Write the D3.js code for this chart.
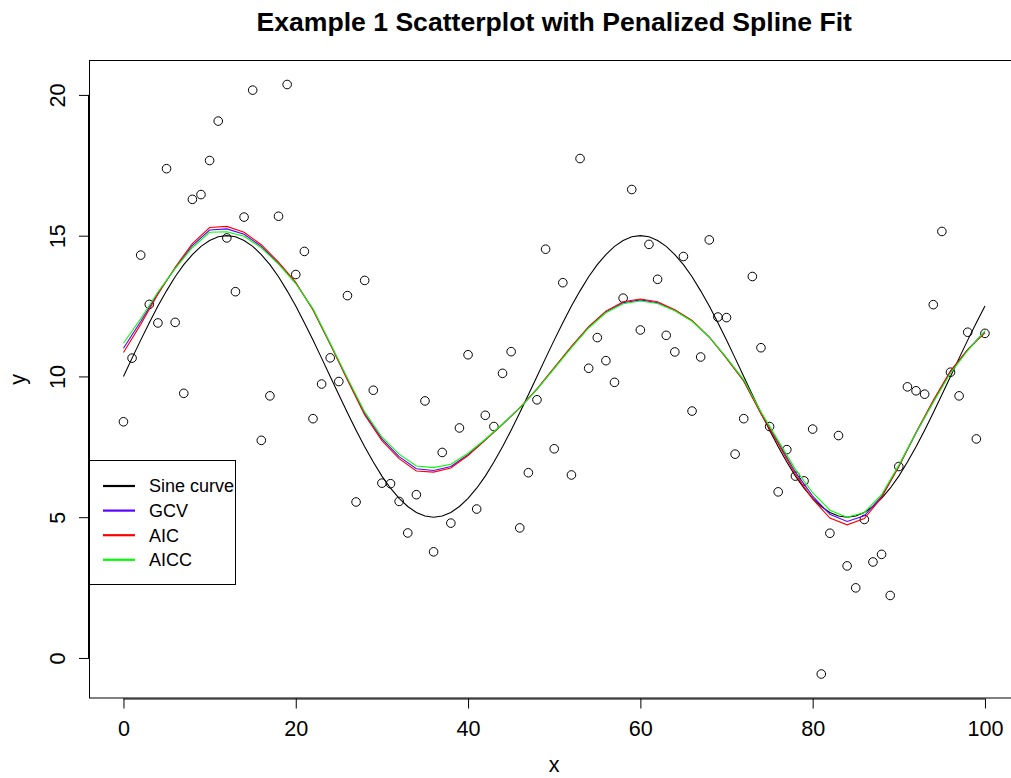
<!DOCTYPE html>
<html>
<head>
<meta charset="utf-8">
<script src="https://cdn.jsdelivr.net/npm/d3@7"></script>
<style>
  html, body { margin: 0; padding: 0; background: #fff; }
  svg { display: block; font-family: "Liberation Sans", Arial, Helvetica, sans-serif; }
</style>
</head>
<body>
<svg id="chart" width="1011" height="778"></svg>
<script>
// ---- data ----
const pointX = d3.range(0, 101);
const pointY = [
  8.39, 10.65, 14.31, 12.56, 11.90, 17.38, 11.92, 9.40, 16.29, 16.46,
  17.67, 19.07, 14.92, 13.01, 15.66, 20.17, 7.73, 9.31, 15.69, 20.37,
  13.62, 14.44, 8.50, 9.73, 10.66, 9.82, 12.87, 5.54, 13.41, 9.51,
  6.21, 6.19, 5.56, 4.44, 5.80, 9.13, 3.77, 7.30, 4.79, 8.17,
  10.77, 5.29, 8.62, 8.22, 10.11, 10.88, 4.62, 6.58, 9.17, 14.52,
  7.43, 13.33, 6.50, 17.74, 10.29, 11.38, 10.56, 9.79, 12.78, 16.64,
  11.65, 14.69, 13.45, 11.46, 10.87, 14.26, 8.77, 10.69, 14.85, 12.11,
  12.09, 7.24, 8.50, 13.55, 11.02, 8.22, 5.90, 7.40, 6.46, 6.29,
  8.13, -0.57, 4.43, 7.90, 3.27, 2.49, 4.92, 3.41, 3.68, 2.22,
  6.80, 9.63, 9.49, 9.37, 12.55, 15.15, 10.15, 9.31, 11.57, 7.78,
  11.53
];

const sineX = d3.range(0, 101);
const sineY = [
  10.00, 10.65, 11.29, 11.91, 12.50, 13.04, 13.54, 13.97, 14.33, 14.62, 14.83, 14.96,
  15.00, 14.96, 14.83, 14.62, 14.33, 13.97, 13.54, 13.04, 12.50, 11.91, 11.29, 10.65,
  10.00, 9.35, 8.71, 8.09, 7.50, 6.96, 6.46, 6.03, 5.67, 5.38, 5.17, 5.04,
  5.00, 5.04, 5.17, 5.38, 5.67, 6.03, 6.46, 6.96, 7.50, 8.09, 8.71, 9.35,
  10.00, 10.65, 11.29, 11.91, 12.50, 13.04, 13.54, 13.97, 14.33, 14.62, 14.83, 14.96,
  15.00, 14.96, 14.83, 14.62, 14.33, 13.97, 13.54, 13.04, 12.50, 11.91, 11.29, 10.65,
  10.00, 9.35, 8.71, 8.09, 7.50, 6.96, 6.46, 6.03, 5.67, 5.38, 5.17, 5.04,
  5.00, 5.04, 5.17, 5.38, 5.67, 6.03, 6.46, 6.96, 7.50, 8.09, 8.71, 9.35,
  10.00, 10.65, 11.29, 11.91, 12.50
];

const fitX = d3.range(0, 101, 2);
const gcvY = [
  11.00, 11.95, 12.95, 13.85, 14.65, 15.20, 15.24, 15.05, 14.62, 14.02,
  13.32, 12.38, 11.15, 9.90, 8.68, 7.78, 7.15, 6.72, 6.66, 6.80,
  7.22, 7.75, 8.30, 8.88, 9.55, 10.30, 11.05, 11.75, 12.30, 12.62,
  12.72, 12.62, 12.35, 11.98, 11.40, 10.65, 9.85, 8.70, 7.65, 6.60,
  5.75, 5.10, 4.85, 5.05, 5.74, 6.80, 7.99, 9.10, 10.17, 10.95,
  11.60
];
const aicY = [
  10.85, 11.85, 12.92, 13.88, 14.72, 15.29, 15.33, 15.12, 14.68, 14.06,
  13.34, 12.36, 11.14, 9.87, 8.63, 7.72, 7.08, 6.64, 6.60, 6.75,
  7.19, 7.74, 8.30, 8.88, 9.56, 10.31, 11.07, 11.77, 12.32, 12.65,
  12.75, 12.65, 12.37, 11.99, 11.40, 10.64, 9.83, 8.67, 7.60, 6.52,
  5.64, 4.97, 4.73, 4.95, 5.70, 6.80, 8.02, 9.15, 10.20, 10.95,
  11.55
];
const aiccY = [
  11.18, 12.05, 13.00, 13.83, 14.58, 15.12, 15.14, 14.98, 14.57, 13.99,
  13.30, 12.40, 11.18, 9.94, 8.74, 7.85, 7.24, 6.82, 6.76, 6.88,
  7.27, 7.77, 8.31, 8.88, 9.54, 10.28, 11.02, 11.72, 12.26, 12.58,
  12.68, 12.59, 12.33, 11.96, 11.40, 10.67, 9.88, 8.74, 7.72, 6.70,
  5.87, 5.25, 5.00, 5.17, 5.80, 6.85, 8.00, 9.08, 10.12, 10.92,
  11.62
];

const xTicks = [0, 20, 40, 60, 80, 100];
const yTicks = [0, 5, 10, 15, 20];
const legendLabels = ["Sine curve", "GCV", "AIC", "AICC"];
const seriesColors = ["#000000", "#5a00ff", "#ff0000", "#00ff00"];
const titleText = "Example 1 Scatterplot with Penalized Spline Fit";

(function draw() {
  const svg = d3.select("#chart");
  const pLeft = 89, pTop = 60, pBottom = 698.5;
  const pxPerX = 8.615;
  const pRight = pLeft + 108 * pxPerX;

  const x = d3.scaleLinear().domain([-4, 104]).range([pLeft, pRight]);
  const y = d3.scaleLinear().domain([-1.44, 21.24]).range([pBottom, pTop]);

  svg.append("defs").append("clipPath").attr("id", "plotclip")
    .append("rect").attr("x", pLeft).attr("y", pTop)
    .attr("width", pRight - pLeft).attr("height", pBottom - pTop);

  // title
  svg.append("text")
    .attr("x", (pLeft + pRight) / 2).attr("y", 31)
    .attr("text-anchor", "middle")
    .attr("font-size", 26.6).attr("font-weight", "bold")
    .text(titleText);

  // axes
  const xAxis = d3.axisBottom(x).tickValues(xTicks).tickSize(10).tickSizeOuter(0);
  const gx = svg.append("g").attr("transform", `translate(0,${pBottom})`).call(xAxis);
  gx.select(".domain").attr("d", `M${x(xTicks[0])},0.5H${x(xTicks[xTicks.length-1])}`);
  gx.selectAll("text").attr("font-size", 21.6).attr("font-family", null)
    .attr("fill", "#000").attr("dy", null).attr("y", 37.2);
  gx.selectAll("line, path").attr("stroke", "#000");

  const yAxis = d3.axisLeft(y).tickValues(yTicks).tickSize(10).tickSizeOuter(0);
  const gy = svg.append("g").attr("transform", `translate(${pLeft},0)`).call(yAxis);
  gy.select(".domain").attr("d", `M-0.5,${y(yTicks[0])}V${y(yTicks[yTicks.length-1])}`);
  gy.selectAll("line, path").attr("stroke", "#000");
  gy.selectAll(".tick text")
    .attr("font-size", 21.6).attr("font-family", null).attr("fill", "#000")
    .attr("x", null).attr("dy", null)
    .attr("text-anchor", "middle")
    .attr("transform", "translate(-24,0) rotate(-90)");

  // axis titles
  svg.append("text").attr("x", (pLeft + pRight) / 2).attr("y", 772)
    .attr("text-anchor", "middle").attr("font-size", 21.6).text("x");
  svg.append("text").attr("transform", `translate(25,${(pTop + pBottom) / 2}) rotate(-90)`)
    .attr("text-anchor", "middle").attr("font-size", 21.6).text("y");

  // plot box
  svg.append("rect").attr("x", pLeft + 0.5).attr("y", pTop + 0.5)
    .attr("width", pRight - pLeft).attr("height", pBottom - pTop - 1)
    .attr("fill", "none").attr("stroke", "#000").attr("stroke-width", 1);

  const plot = svg.append("g").attr("clip-path", "url(#plotclip)");

  // points
  plot.append("g").selectAll("circle")
    .data(pointX.map((d, i) => [d, pointY[i]]))
    .join("circle")
    .attr("cx", d => x(d[0])).attr("cy", d => y(d[1]))
    .attr("r", 4.3).attr("fill", "none").attr("stroke", "#000").attr("stroke-width", 1);

  const line = d3.line().x(d => x(d[0])).y(d => y(d[1]));
  const series = [
    sineX.map((d, i) => [d, sineY[i]]),
    fitX.map((d, i) => [d, gcvY[i]]),
    fitX.map((d, i) => [d, aicY[i]]),
    fitX.map((d, i) => [d, aiccY[i]])
  ];
  series.forEach((s, i) => {
    plot.append("path").datum(s).attr("d", line)
      .attr("fill", "none").attr("stroke", seriesColors[i]).attr("stroke-width", 1.1);
  });

  // legend
  const lg = svg.append("g");
  lg.append("rect").attr("x", pLeft + 0.5).attr("y", 460.5).attr("width", 146).attr("height", 124)
    .attr("fill", "#fff").attr("stroke", "#000").attr("stroke-width", 1);
  legendLabels.forEach((lab, i) => {
    const ly = 486 + i * 24.6;
    lg.append("line").attr("x1", 103).attr("x2", 135).attr("y1", ly).attr("y2", ly)
      .attr("stroke", seriesColors[i]).attr("stroke-width", 2.2);
    lg.append("text").attr("x", 149).attr("y", ly + 6.4).attr("font-size", 18).text(lab);
  });
})();
</script>
</body>
</html>
